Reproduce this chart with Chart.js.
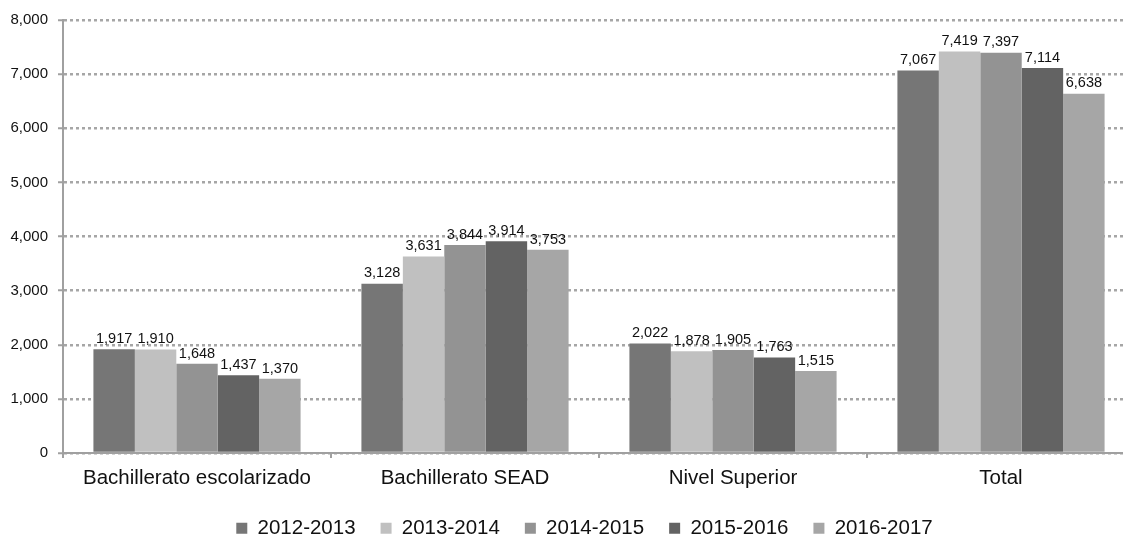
<!DOCTYPE html>
<html>
<head>
<meta charset="utf-8">
<script src="https://cdn.jsdelivr.net/npm/chart.js@4"></script>
<style>
  html, body { margin: 0; padding: 0; background: #fff; overflow: hidden; width: 1123px; height: 541px; }
  #wrap { position: absolute; left: 0; top: 0; width: 1135px; height: 552px; }
</style>
</head>
<body>
<div id="wrap"><canvas id="chart" width="1135" height="552"></canvas></div>
<script>
// categories and series
var CATEGORIES = ['Bachillerato escolarizado', 'Bachillerato SEAD', 'Nivel Superior', 'Total'];
var YEARS = ['2012-2013', '2013-2014', '2014-2015', '2015-2016', '2016-2017'];
var V_2012 = [1917, 3128, 2022, 7067];
var V_2013 = [1910, 3631, 1878, 7419];
var V_2014 = [1648, 3844, 1905, 7397];
var V_2015 = [1437, 3914, 1763, 7114];
var V_2016 = [1370, 3753, 1515, 6638];
var COLORS = ['#767676', '#c0c0c0', '#939393', '#636363', '#a6a6a6'];

var FONT = '"Liberation Sans", Arial, sans-serif';
var fmt = function (v) { return v.toLocaleString('en-US'); };

// draw the value above each bar
var valueLabels = {
  id: 'valueLabels',
  afterDatasetsDraw: function (chart) {
    var ctx = chart.ctx;
    ctx.save();
    ctx.font = '14.5px ' + FONT;
    ctx.fillStyle = '#111';
    ctx.textAlign = 'center';
    ctx.textBaseline = 'bottom';
    chart.data.datasets.forEach(function (ds, i) {
      chart.getDatasetMeta(i).data.forEach(function (bar, j) {
        ctx.fillText(fmt(ds.data[j]), bar.x, bar.y - 3);
      });
    });
    ctx.restore();
  }
};

// the canvas runs past the window on the right, so nudge the legend back to the page centre
var legendShift = {
  id: 'legendShift',
  afterLayout: function (chart) {
    chart.legend.left += 17;
    chart.legend.right += 17;
  }
};

var series = [V_2012, V_2013, V_2014, V_2015, V_2016];

new Chart(document.getElementById('chart'), {
  type: 'bar',
  data: {
    labels: CATEGORIES,
    datasets: series.map(function (vals, i) {
      return {
        label: YEARS[i],
        data: vals,
        backgroundColor: COLORS[i],
        borderWidth: 0,
        categoryPercentage: 0.773,
        barPercentage: 1
      };
    })
  },
  options: {
    responsive: false,
    animation: false,
    layout: { padding: { left: 0, right: 0, top: 20, bottom: 3.5 } },
    plugins: {
      tooltip: { enabled: false },
      legend: {
        position: 'bottom',
        labels: {
          boxWidth: 11,
          boxHeight: 11,
          padding: 25,
          color: '#111',
          font: { family: FONT, size: 20.5 }
        }
      }
    },
    scales: {
      x: {
        afterFit: function (s) { s.height = 40; },
        grid: {
          offset: true,
          drawOnChartArea: false,
          drawTicks: true,
          tickLength: 5,
          color: '#a0a0a0',
          lineWidth: 2
        },
        border: { color: '#a0a0a0', width: 2 },
        ticks: { color: '#111', font: { family: FONT, size: 20.5 }, padding: 8 }
      },
      y: {
        min: 0,
        max: 8000,
        afterFit: function (s) { s.width = 63; },
        ticks: {
          stepSize: 1000,
          color: '#111',
          padding: 10,
          font: { family: FONT, size: 15 },
          callback: function (v) { return fmt(v); }
        },
        grid: {
          color: '#a6a6a6',
          lineWidth: 2.5,
          tickLength: 5,
          tickBorderDash: [],
          tickColor: '#a0a0a0',
          tickWidth: 2
        },
        border: { color: '#a0a0a0', width: 2, dash: [3, 3] }
      }
    }
  },
  plugins: [valueLabels, legendShift]
});
</script>
</body>
</html>
